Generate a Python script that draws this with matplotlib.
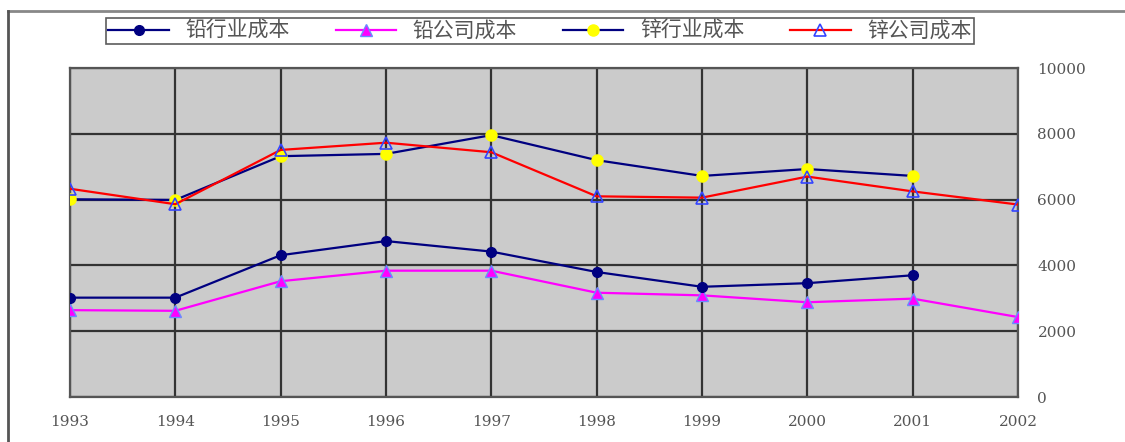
import matplotlib.pyplot as plt
from matplotlib.lines import Line2D

plt.rcParams['font.family'] = ['Noto Sans CJK SC', 'DejaVu Sans']

years = [1993, 1994, 1995, 1996, 1997, 1998, 1999, 2000, 2001, 2002]

# 成本数据 (元/吨)
lead_industry = [3020, 3020, 4310, 4740, 4420, 3800, 3350, 3460, 3700, None]
lead_company = [2640, 2620, 3520, 3840, 3840, 3170, 3090, 2880, 2990, 2430]
zinc_industry = [6010, 5990, 7320, 7390, 7960, 7200, 6720, 6930, 6720, None]
zinc_company = [6330, 5860, 7510, 7730, 7440, 6100, 6060, 6700, 6250, 5850]

y_ticks = [0, 2000, 4000, 6000, 8000, 10000]
labels = ["铅行业成本", "铅公司成本", "锌行业成本", "锌公司成本"]


def clean(xs, ys):
    pts = [(x, y) for x, y in zip(xs, ys) if y is not None]
    return [p[0] for p in pts], [p[1] for p in pts]


fig = plt.figure(figsize=(11.25, 4.42), dpi=100)
ax = fig.add_axes([0.0622, 0.1018, 0.8427, 0.7443])
ax.set_facecolor("#cbcbcb")

x, y = clean(years, lead_industry)
ax.plot(x, y, color="#000080", lw=1.6, marker="o", ms=7,
        mfc="#000080", mec="#000080", label=labels[0], zorder=4)
x, y = clean(years, lead_company)
ax.plot(x, y, color="#ff00ff", lw=1.6, marker="^", ms=8,
        mfc="#ff00ff", mec="#6a8cff", label=labels[1], zorder=3)
x, y = clean(years, zinc_industry)
ax.plot(x, y, color="#000080", lw=1.6, marker="o", ms=8,
        mfc="#ffff00", mec="#ffff00", label=labels[2], zorder=4)
x, y = clean(years, zinc_company)
ax.plot(x, y, color="#ff0000", lw=1.6, marker="^", ms=8,
        mfc="none", mec="#3344ff", mew=1.2, label=labels[3], zorder=5)

ax.set_xlim(1993, 2002)
ax.set_ylim(0, 10000)
ax.set_xticks(years)
ax.set_yticks(y_ticks)
ax.grid(True, color="#333333", lw=1.6)
ax.set_axisbelow(True)
for s in ax.spines.values():
    s.set_color("#555555")
    s.set_linewidth(1.6)

ax.yaxis.tick_right()
ax.tick_params(axis="both", length=0, labelsize=11, labelcolor="#555555")
ax.tick_params(axis="y", pad=14)
ax.tick_params(axis="x", pad=13)
for t in ax.get_xticklabels() + ax.get_yticklabels():
    t.set_family(["DejaVu Serif"])

leg = fig.legend(loc="center", bbox_to_anchor=(540 / 1125, 1 - 31 / 442),
                 ncol=4, fontsize=15, frameon=True, fancybox=False,
                 handlelength=2.9, handletextpad=0.8, columnspacing=2.2,
                 borderpad=0.1, borderaxespad=0)
leg.get_frame().set_edgecolor("#333333")
leg.get_frame().set_linewidth(1.2)
for t in leg.get_texts():
    t.set_color("#555555")

# 外框
fig.add_artist(Line2D([8 / 1125, 1], [1 - 11 / 442, 1 - 11 / 442], color="#888888", lw=2))
fig.add_artist(Line2D([8 / 1125, 8 / 1125], [0, 1 - 11 / 442], color="#555555", lw=2))

fig.savefig("out.png", dpi=100)
